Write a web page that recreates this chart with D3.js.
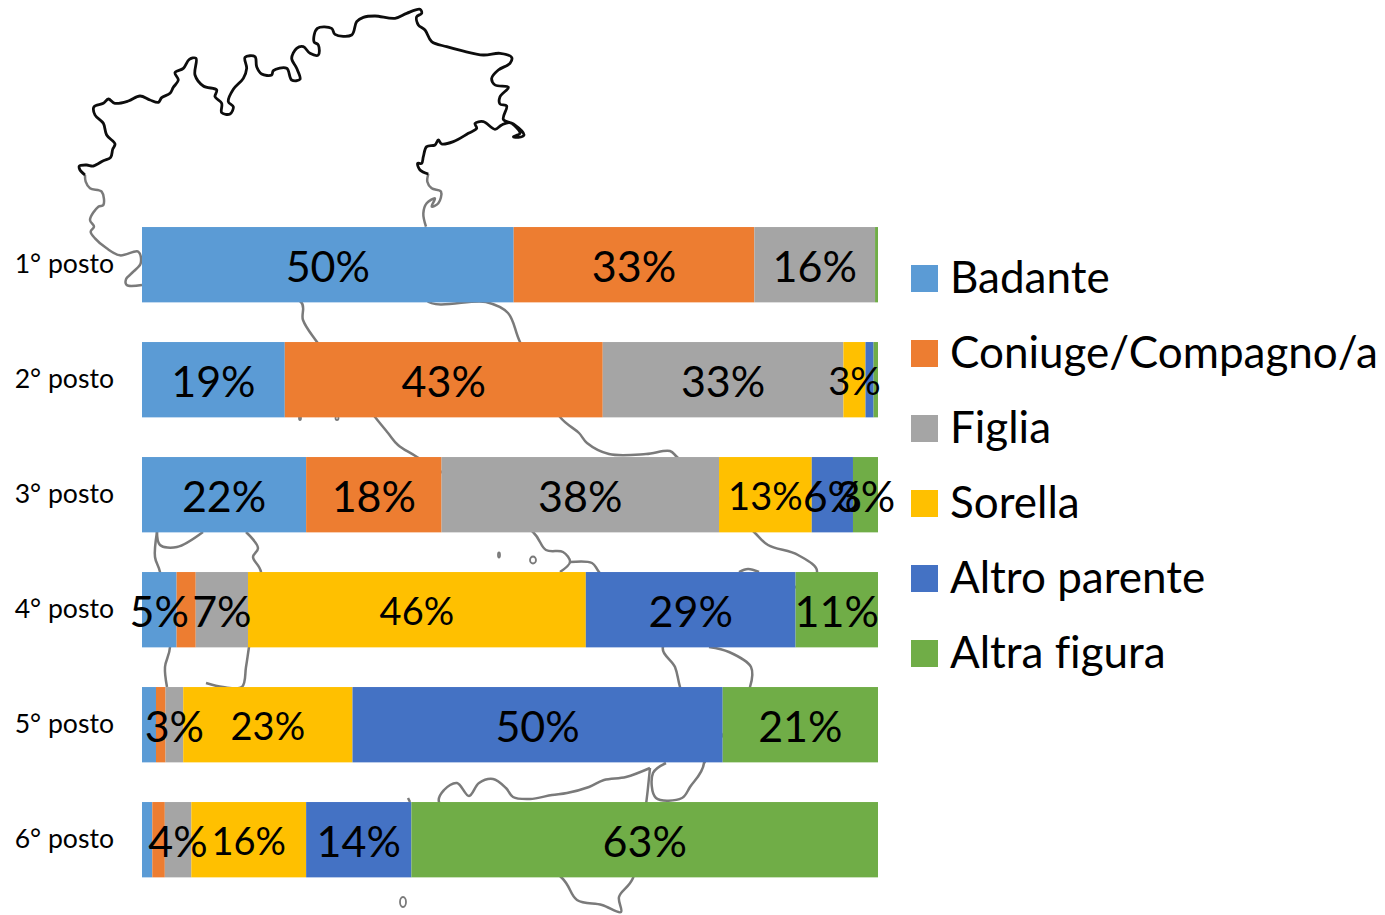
<!DOCTYPE html>
<html><head><meta charset="utf-8">
<script src="https://cdn.jsdelivr.net/npm/d3@7/dist/d3.min.js"></script>
<style>html,body{margin:0;padding:0;background:#fff}svg{display:block}text{font-family:Lato,"Open Sans",sans-serif;fill:#000;font-variant-ligatures:none}</style>
</head><body><svg id="c" width="1385" height="915"></svg>
<script>
const categories=["1° posto","2° posto","3° posto","4° posto","5° posto","6° posto"];
const seriesNames=["Badante","Coniuge/Compagno/a","Figlia","Sorella","Altro parente","Altra figura"];
const colors=["#5B9BD5","#ED7D31","#A5A5A5","#FFC000","#4472C4","#70AD47"];
const badante=[50.5,19.4,22.3,4.7,1.9,1.4];
const coniuge=[32.7,43.2,18.4,2.6,1.3,1.7];
const figlia=[16.4,32.7,37.7,7.1,2.4,3.6];
const sorella=[0,3.0,12.6,45.9,23.0,15.6];
const altroParente=[0,1.1,5.6,28.5,50.3,14.3];
const altraFigura=[0.4,0.6,3.4,11.2,21.1,63.4];
const seriesValues=[badante,coniuge,figlia,sorella,altroParente,altraFigura];
const badanteLabels=["50%","19%","22%","5%",null,null];
const coniugeLabels=["33%","43%","18%",null,null,null];
const figliaLabels=["16%","33%","38%","7%","3%","4%"];
const sorellaLabels=[null,"3%","13%","46%","23%","16%"];
const altroParenteLabels=[null,null,"6%","29%","50%","14%"];
const altraFiguraLabels=[null,null,"3%","11%","21%","63%"];
const seriesLabels=[badanteLabels,coniugeLabels,figliaLabels,sorellaLabels,altroParenteLabels,altraFiguraLabels];
const labelFont=[43,43,43,38,43,43];

// background map outline of Italy (zoom coordinates, decoration behind the bars)
const z1=p=>p.map(([x,y])=>[70+x/3,y/3]);
const mapGrayNW=z1([[216,855],[170,855],[168,838],[190,815],[212,790],[205,755],[150,766],[110,745],[75,715],[62,695],[72,680],[60,660],[85,620],[100,615],[95,575],[60,565],[47,545],[45,525]]);
const mapBlack=z1([[45,525],[30,510],[28,498],[50,495],[70,498],[100,482],[122,472],[128,448],[135,432],[110,405],[100,370],[75,345],[72,320],[100,310],[115,297],[135,310],[175,303],[210,288],[240,300],[265,307],[275,293],[300,280],[310,262],[325,240],[315,218],[340,205],[358,178],[378,175],[375,225],[400,258],[440,270],[435,290],[455,310],[455,338],[480,342],[490,320],[475,305],[490,268],[520,235],[530,205],[525,172],[555,170],[560,200],[575,222],[605,225],[610,212],[650,205],[665,240],[690,238],[680,205],[665,175],[680,145],[700,140],[720,160],[745,165],[745,135],[732,125],[742,85],[785,85],[795,103],[845,105],[860,65],[880,52],[915,48],[975,55],[1010,40],[1050,28],[1055,40],[1040,50],[1045,75],[1065,90],[1085,125],[1130,140],[1175,152],[1240,165],[1290,160],[1325,172],[1320,190],[1285,210],[1265,235],[1275,255],[1315,262],[1290,290],[1290,312],[1310,318],[1300,358],[1330,372],[1362,405],[1345,412],[1330,410],[1350,400],[1320,368],[1295,375],[1275,388],[1240,365],[1215,370],[1220,385],[1195,400],[1150,425],[1115,432],[1105,420],[1095,435],[1070,440],[1060,470],[1055,490],[1043,490],[1050,510],[1075,522]]);
const mapGrayNE=z1([[1075,522],[1072,545],[1085,565],[1113,575],[1105,610],[1085,620],[1095,595],[1070,610],[1060,640],[1068,680]]);
const mapEast=[[426,227],[426,300],[486,302],[508,313],[520,342],[560,417],[579,433],[587,443],[609,454],[646,454],[670,451],[677,457],[754,532],[768,545],[798,555],[817,572],[663,647],[675,667],[680,687],[704,763],[690,787],[682,798],[656,798],[653,773],[666,763]];
const mapHeel=[[709,647],[729,652],[751,667],[750,687],[704,763]];
const mapWest=[[142,285],[301,302],[303,320],[317,342],[375,417],[388,433],[398,445],[417,457],[533,532],[546,550],[563,552],[570,562],[560,572]];
const mapGulf=[[570,562],[592,563],[599,572],[663,647]];
const mapCalabria=[[650,768],[626,777],[604,780],[589,787],[567,793],[552,795],[530,799],[513,797],[506,788],[493,779],[479,783],[469,796],[457,783],[444,790],[439,802],[562,878],[577,900],[602,905],[621,912],[619,897],[633,878],[650,768]];
const mapSardE=[[246,532],[258,548],[253,557],[261,572],[249,647],[246,667],[242,687],[223,687],[206,683]];
const mapSardW=[[157,532],[160,545],[177,547],[203,532]];
const mapCorsica=[[157,532],[155,557],[160,572],[170,647],[165,667],[167,687]];
const mapBits=[[[739,572],[748,569],[759,572]],[[408,798],[410,802]]];
const grayPaths=[mapGrayNW,mapGrayNE,mapEast,mapHeel,mapWest,mapGulf,mapCalabria,mapSardE,mapSardW,mapCorsica,...mapBits];
const mapIslands=[[403,902,3,5],[533,560,3,3.5],[499,555,1,2.5],[300,418,1,2],[337,418,1.5,2]];

const svg=d3.select("#c");
const line=d3.line().curve(d3.curveCatmullRom.alpha(0.5));
const map=svg.append("g").attr("fill","none");
map.selectAll("path.g").data(grayPaths).join("path").attr("class","g").attr("d",line).attr("stroke","#7a7a7a").attr("stroke-width",2.5).attr("stroke-linejoin","round");
map.append("path").attr("d",line(mapBlack)).attr("stroke","#0d0d0d").attr("stroke-width",2.8).attr("stroke-linejoin","round");
map.selectAll("ellipse").data(mapIslands).join("ellipse").attr("cx",d=>d[0]).attr("cy",d=>d[1]).attr("rx",d=>d[2]).attr("ry",d=>d[3]).attr("stroke","#7a7a7a").attr("stroke-width",1.8);

const x=d3.scaleLinear().domain([0,100]).range([142,878]);
const y=d3.scaleBand().domain(categories).range([207.2,897.2]).paddingInner(.345).paddingOuter(.1725);
const rows=categories.map((c,i)=>{const r={cat:c,i};seriesNames.forEach((s,j)=>r[s]=seriesValues[j][i]);return r;});
const stacked=d3.stack().keys(seriesNames)(rows);
const gs=svg.selectAll("g.s").data(stacked).join("g").attr("class","s").attr("fill",(d,i)=>colors[i]);
gs.selectAll("rect").data(d=>d).join("rect").attr("x",d=>x(d[0])).attr("y",d=>y(d.data.cat)).attr("width",d=>x(d[1])-x(d[0])).attr("height",y.bandwidth());
const gl=svg.selectAll("g.l").data(stacked).join("g").attr("class","l").attr("text-anchor","middle");
gl.each(function(s,i){
  d3.select(this).selectAll("text").data(s.filter(d=>seriesLabels[i][d.data.i])).join("text")
    .attr("x",d=>x((d[0]+d[1])/2)).attr("y",d=>y(d.data.cat)+y.bandwidth()/2+(labelFont[i]>40?17:15))
    .attr("font-size",labelFont[i]).text(d=>seriesLabels[i][d.data.i]);
});
svg.selectAll("text.cat").data(categories).join("text").attr("class","cat").attr("x",114).attr("y",d=>y(d)+y.bandwidth()/2+8).attr("text-anchor","end").attr("font-size",26.6).text(d=>d);
const lg=svg.selectAll("g.lg").data(seriesNames).join("g").attr("class","lg").attr("transform",(d,i)=>`translate(911,${265+i*75})`);
lg.append("rect").attr("width",27).attr("height",27).attr("fill",(d,i)=>colors[i]);
lg.append("text").attr("x",39).attr("y",28).attr("font-size",44).text(d=>d);
</script></body></html>
